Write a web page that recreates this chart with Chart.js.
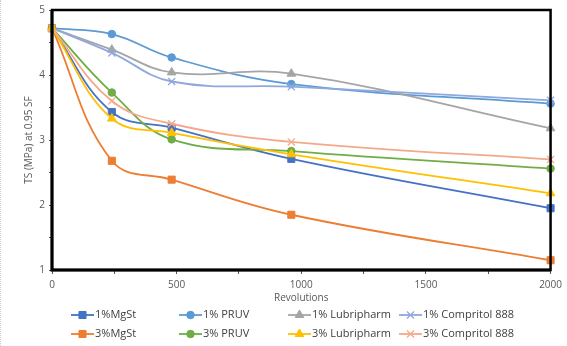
<!DOCTYPE html>
<html lang="en">
<head>
    <meta charset="UTF-8">
    <title>TS vs Revolutions</title>
    <script src="https://cdn.jsdelivr.net/npm/chart.js@4.4.1/dist/chart.umd.min.js"></script>
    <style>
        html, body { margin: 0; padding: 0; background: #fff; }
        #wrap { position: relative; width: 567px; height: 346px; border-left: 1px dotted #d0d0d0; box-sizing: border-box; }
    </style>
</head>
<body>
    <div id="wrap"><canvas id="tsChart" width="566" height="346"></canvas></div>
    <script>
        // revolutions
        var revs = [0, 240, 480, 960, 2000];

        var seriesNames = ['1%MgSt', '1% PRUV', '1% Lubripharm', '1% Compritol 888',
                           '3%MgSt', '3% PRUV', '3% Lubripharm', '3% Compritol 888'];

        var mgst1   = [4.72, 3.43, 3.19, 2.71, 1.95];
        var pruv1   = [4.72, 4.63, 4.27, 3.86, 3.56];
        var lubri1  = [4.72, 4.39, 4.04, 4.02, 3.18];
        var compr1  = [4.72, 4.34, 3.90, 3.82, 3.61];
        var mgst3   = [4.72, 2.68, 2.39, 1.85, 1.15];
        var pruv3   = [4.72, 3.73, 3.01, 2.83, 2.56];
        var lubri3  = [4.72, 3.33, 3.11, 2.78, 2.18];
        var compr3  = [4.72, 3.60, 3.25, 2.97, 2.70];

        var allValues = [mgst1, pruv1, lubri1, compr1, mgst3, pruv3, lubri3, compr3];
        var colors = ['#4472C4', '#5B9BD5', '#A5A5A5', '#8FA8DE',
                      '#ED7D31', '#70AD47', '#FFC000', '#F4A98A'];
        var markers = ['rect', 'circle', 'triangle', 'crossRot',
                       'rect', 'circle', 'triangle', 'crossRot'];
        var markerSize = { rect: 5, circle: 3.8, triangle: 5, crossRot: 5 };

        var datasets = allValues.map(function (vals, i) {
            return {
                label: seriesNames[i],
                data: vals.map(function (v, j) { return { x: revs[j], y: v }; }),
                borderColor: colors[i],
                backgroundColor: colors[i],
                borderWidth: 1.8,
                pointStyle: markers[i],
                pointRadius: markerSize[markers[i]],
                pointBorderWidth: markers[i] == 'crossRot' ? 1.3 : 1,
                tension: 0.4,
                clip: false,
                order: 8 - i
            };
        });

        // box round the plot area
        var frame = {
            id: 'frame',
            afterDatasetsDraw: function (chart) {
                var a = chart.chartArea, ctx = chart.ctx;
                ctx.save();
                ctx.strokeStyle = '#000';
                ctx.lineWidth = 2.5;
                ctx.strokeRect(a.left, a.top, a.right - a.left, a.bottom - a.top);
                ctx.lineWidth = 3;
                ctx.beginPath();
                ctx.moveTo(a.left, a.top);
                ctx.lineTo(a.left, a.bottom);
                ctx.lineTo(a.right, a.bottom);
                ctx.stroke();
                ctx.restore();
            }
        };

        // excel style legend: 4 columns, 2 rows
        var gridLegend = {
            id: 'gridLegend',
            afterDraw: function (chart) {
                var ctx = chart.ctx;
                var cols = [70, 178, 287, 398];
                var rows = [315, 334];
                ctx.save();
                ctx.font = '11px "Open Sans", sans-serif';
                ctx.textBaseline = 'middle';
                chart.data.datasets.forEach(function (ds, i) {
                    var x = cols[i % 4], y = rows[Math.floor(i / 4)];
                    ctx.strokeStyle = ds.borderColor;
                    ctx.fillStyle = ds.backgroundColor;
                    ctx.lineWidth = 1.8;
                    ctx.beginPath();
                    ctx.moveTo(x, y);
                    ctx.lineTo(x + 23, y);
                    ctx.stroke();
                    ctx.lineWidth = ds.pointBorderWidth;
                    Chart.helpers.drawPoint(ctx, {
                        pointStyle: ds.pointStyle,
                        radius: ds.pointRadius,
                        borderWidth: ds.pointBorderWidth
                    }, x + 11.5, y);
                    ctx.fillStyle = '#404040';
                    ctx.fillText(ds.label, x + 24, y);
                });
                ctx.restore();
            }
        };

        var tickFont = { family: '"Open Sans", sans-serif', size: 10 };

        new Chart(document.getElementById('tsChart'), {
            type: 'line',
            data: { datasets: datasets },
            plugins: [frame, gridLegend],
            options: {
                responsive: false,
                animation: false,
                layout: { padding: { left: 0, right: 11, top: 6, bottom: 42 } },
                plugins: {
                    legend: { display: false },
                    tooltip: { enabled: false }
                },
                scales: {
                    x: {
                        type: 'linear',
                        min: 0,
                        max: 2000,
                        ticks: {
                            stepSize: 250,
                            color: '#595959',
                            font: tickFont,
                            maxRotation: 0,
                            padding: 5,
                            callback: function (v) { return v % 500 == 0 ? v : ''; }
                        },
                        grid: { drawOnChartArea: false, tickLength: 4, color: '#595959' },
                        border: { display: false },
                        title: {
                            display: true,
                            text: 'Revolutions',
                            color: '#595959',
                            font: { family: '"Open Sans", sans-serif', size: 10 },
                            padding: { top: 3, bottom: 0 }
                        },
                        afterFit: function (s) { s.height = 34; }
                    },
                    y: {
                        min: 1,
                        max: 5,
                        ticks: {
                            stepSize: 0.5,
                            color: '#595959',
                            font: tickFont,
                            padding: 4,
                            callback: function (v) { return v % 1 == 0 ? v : ''; }
                        },
                        grid: { drawOnChartArea: false, tickLength: 3, color: '#595959' },
                        border: { display: false },
                        title: {
                            display: true,
                            text: 'TS (MPa) at 0.95 SF',
                            color: '#595959',
                            font: { family: '"Open Sans", sans-serif', size: 10 },
                            padding: { top: 22, bottom: 4 }
                        },
                        afterFit: function (s) { s.width = 51; }
                    }
                }
            }
        });
    </script>
</body>
</html>
